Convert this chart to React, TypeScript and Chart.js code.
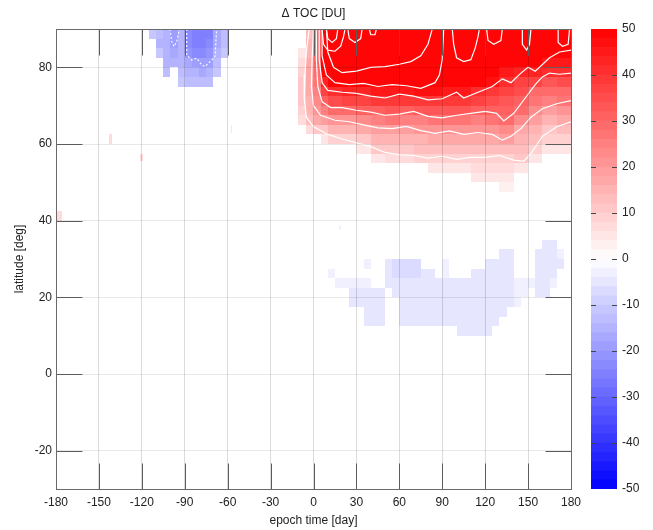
import React, { useEffect, useRef } from "react";
import { Chart, registerables } from "chart.js";

Chart.register(...registerables);
Chart.defaults.font.family = "'Liberation Sans', Arial, sans-serif";
Chart.defaults.font.size = 12;
Chart.defaults.color = "#222";

// ---------- axes ----------
const xTickValues = [-180, -150, -120, -90, -60, -30, 0, 30, 60, 90, 120, 150, 180];
const yTickValues = [-20, 0, 20, 40, 60, 80];
const colorbarTicks = [-50, -40, -30, -20, -10, 0, 10, 20, 30, 40, 50];

// ---------- Arctic positive anomaly (DU) ----------
const arcticDayEdges = [-11, -5, 0, 5, 10, 20, 30, 40, 50, 60, 70, 80, 90, 100, 110, 120, 130, 140, 150, 160, 170, 180];
const arcticLatEdges = [90, 87.5, 85, 82.5, 80, 77.5, 75, 72.5, 70, 67.5, 65, 62.5, 60, 57.5, 55, 52.5, 50, 47.5];
const arcticToc = [
  [0, 12, 30, 60, 80, 72, 70, 68, 68, 70, 70, 60, 55, 65, 58, 62, 58, 60, 62, 58, 62],
  [0, 14, 30, 60, 72, 68, 66, 66, 66, 67, 66, 58, 54, 63, 56, 60, 56, 57, 58, 55, 56],
  [5, 15, 30, 55, 65, 65, 64, 64, 64, 64, 62, 57, 52, 61, 55, 57, 54, 55, 54, 48, 49],
  [7, 16, 30, 52, 62, 62, 62, 61, 61, 60, 58, 56, 51, 58, 54, 54, 52, 50, 48, 44, 45],
  [9, 16, 28, 48, 57, 60, 58, 57, 57, 56, 55, 54, 50, 55, 52, 52, 45, 42, 42, 40, 40],
  [10, 16, 27, 42, 50, 52, 52, 52, 52, 51, 52, 50, 48, 50, 48, 46, 40, 37, 36, 33, 34],
  [10, 16, 25, 36, 40, 42, 43, 45, 45, 44, 46, 46, 44, 44, 41, 38, 36, 34, 29, 28, 28],
  [10, 15, 22, 30, 35, 36, 36, 38, 38, 38, 38, 39, 38, 38, 36, 34, 33, 31, 26, 24, 26],
  [9, 14, 20, 25, 28, 29, 30, 31, 32, 31, 32, 33, 32, 32, 31, 30, 31, 28, 22, 19, 21],
  [6, 12, 16, 18, 20, 21, 22, 24, 26, 25, 25, 27, 26, 26, 25, 26, 29, 22, 18, 15, 16],
  [0, 6, 10, 11, 14, 15, 16, 18, 19, 19, 20, 21, 21, 21, 21, 21, 22, 17, 15, 11, 12],
  [0, 0, 0, 5, 8, 8, 11, 14, 15, 15, 15, 16, 17, 17, 16, 16, 18, 14, 12, 8, 8],
  [0, 0, 0, 0, 0, 0, 5, 10, 11, 11, 12, 13, 13, 13, 12, 12, 13, 12, 8, 5, 5],
  [0, 0, 0, 0, 0, 0, 0, 5, 6, 7, 8, 9, 9, 9, 9, 9, 9, 10, 4, 0, 0],
  [0, 0, 0, 0, 0, 0, 0, 0, 0, 0, 0, 5, 5, 4, 6, 6, 6, 4, 0, 0, 0],
  [0, 0, 0, 0, 0, 0, 0, 0, 0, 0, 0, 0, 0, 0, 4, 4, 4, 0, 0, 0, 0],
  [0, 0, 0, 0, 0, 0, 0, 0, 0, 0, 0, 0, 0, 0, 0, 0, 3, 0, 0, 0, 0],
];

// ---------- polar negative anomaly (DU) ----------
const polarDayEdges = [-115, -110, -105, -100, -95, -90, -85, -80, -75, -70, -65, -60];
const polarLatEdges = [90, 87.5, 85, 82.5, 80, 77.5, 75];
const polarToc = [
  [-12, -14, -15, -20, -15, -24, -26, -26, -25, -18, -14],
  [0, -15, -16, -19, -16, -24, -26, -26, -24, -18, -13],
  [0, -12, -16, -17, -16, -21, -23, -24, -22, -16, -11],
  [0, 0, -15, -15, -15, -17, -19, -20, -19, -13, 0],
  [0, 0, -13, 0, -14, -15, -16, -17, -16, -11, 0],
  [0, 0, 0, 0, -12, -13, -14, -14, -13, 0, 0],
];

// ---------- mid-latitude weak negative anomaly (DU) ----------
const midDayEdges = [10, 15, 20, 25, 30, 35, 40, 45, 50, 55, 60, 65, 70, 75, 80, 85, 90, 95, 100, 105, 110, 115, 120, 125, 130, 135, 140, 145, 150, 155, 160, 165, 170, 175];
const midLatEdges = [35, 32.5, 30, 27.5, 25, 22.5, 20, 17.5, 15, 12.5, 10];
const midToc = [
  [0, 0, 0, 0, 0, 0, 0, 0, 0, 0, 0, 0, 0, 0, 0, 0, 0, 0, 0, 0, 0, 0, 0, 0, 0, 0, 0, 0, 0, 0, -5, -5, 0],
  [0, 0, 0, 0, 0, 0, 0, 0, 0, 0, 0, 0, 0, 0, 0, 0, 0, 0, 0, 0, 0, 0, 0, 0, -5, -5, 0, 0, 0, -5, -5, -5, -4],
  [0, 0, 0, 0, 0, -4, 0, 0, -5, -7, -7, -7, -7, 0, 0, 0, -4, 0, 0, 0, 0, 0, -5, -5, -5, -5, 0, 0, 0, -5, -5, -5, -5],
  [-4, 0, 0, 0, 0, 0, 0, 0, -5, -7, -7, -7, -7, -5, -5, 0, -4, 0, 0, 0, -5, -5, -5, -5, -5, -5, 0, 0, 0, -5, -5, -5, 0],
  [0, -4, -4, -4, -4, -4, 0, 0, -5, -5, -5, -5, -5, -5, -5, -5, -5, -5, -5, -5, -5, -5, -5, -5, -5, -5, -4, -4, -4, -5, -5, -4, 0],
  [0, 0, 0, -5, -5, -5, -5, -5, 0, -5, -5, -5, -5, -5, -5, -5, -5, -5, -5, -5, -5, -5, -5, -5, -5, -5, -4, -4, 0, -5, -5, 0, 0],
  [0, 0, 0, -5, -5, -5, -5, -5, 0, 0, -5, -5, -5, -5, -5, -5, -5, -5, -5, -5, -5, -5, -5, -5, -5, -5, -4, 0, 0, 0, 0, 0, 0],
  [0, 0, 0, 0, 0, -5, -5, -5, 0, 0, -5, -5, -5, -5, -5, -5, -5, -5, -5, -5, -5, -5, -5, -5, -5, 0, 0, 0, 0, 0, 0, 0, 0],
  [0, 0, 0, 0, 0, -5, -5, -5, 0, 0, -5, -5, -5, -5, -5, -5, -5, -5, -5, -5, -5, -5, -5, -5, 0, 0, 0, 0, 0, 0, 0, 0, 0],
  [0, 0, 0, 0, 0, 0, 0, 0, 0, 0, 0, 0, 0, 0, 0, 0, 0, 0, -5, -5, -5, -5, -5, 0, 0, 0, 0, 0, 0, 0, 0, 0, 0],
];

// isolated cells: [day0, day1, lat0, lat1, value]
const isolatedCells = [
  [-180, -176, 40, 42.5, 7],
  [-143, -141, 60, 62.5, 6],
  [-121, -119.5, 55.5, 57.5, 6],
  [-58, -57, 63, 65, 4],
  [18, 19.5, 37.5, 39, -4],
];

// ---------- contour lines [day, lat] ----------
const contour10 = [[-3, 90], [-5, 84], [-6, 78], [-6.5, 72], [-5, 67], [0, 64.5], [10, 62.5], [20, 61.3], [30, 60.3], [40, 59.3], [50, 57.8], [60, 57.2], [70, 57], [80, 56.3], [90, 56.8], [100, 56], [110, 56.5], [120, 56.5], [130, 57], [140, 55.8], [147, 55.5], [152, 57.5], [160, 62], [170, 64.5], [180, 65.8]];
const contour20 = [[0, 90], [-1, 82], [-1.5, 75], [0, 70], [5, 67.5], [15, 66.2], [25, 65.8], [35, 65], [45, 64.2], [55, 64], [65, 64.6], [75, 63.5], [85, 62.8], [95, 63.4], [105, 62.5], [115, 63], [125, 62.5], [132, 61], [138, 62], [145, 64], [152, 67], [160, 69.2], [170, 70.5], [180, 71.3]];
const contour30 = [[2, 90], [2, 82], [3, 75], [6, 71], [12, 69.5], [20, 69.5], [30, 68.8], [40, 68.3], [50, 67.5], [60, 67.8], [70, 68.5], [80, 67.2], [90, 66.8], [100, 67.5], [110, 68], [120, 68.5], [128, 68], [133, 66], [140, 68], [148, 72], [155, 75.5], [160, 77.5], [165, 78.5], [172, 78.2], [180, 78.5]];
const contour40 = [[4, 90], [4, 82], [6, 76], [10, 74], [20, 73.5], [30, 73.2], [40, 72.5], [50, 72], [60, 73], [70, 72.5], [80, 71.5], [90, 71.8], [100, 73.5], [105, 72], [115, 73.5], [125, 75], [132, 77], [138, 76], [145, 78.5], [150, 80], [155, 79], [165, 82.5], [172, 84], [180, 84.5]];
const contour50 = [[6, 90], [6, 83], [9, 78], [15, 76], [25, 75.5], [35, 75.8], [45, 75], [55, 75.5], [65, 75.2], [75, 74.5], [85, 76], [88, 78], [90, 82], [91, 90]];
const contour60 = [[9, 90], [10, 84], [14, 80], [20, 78.6], [30, 79], [40, 80], [50, 80.2], [60, 80.8], [68, 81.5], [75, 83], [80, 86], [83, 90]];
const contourLoops = [
  [[6, 90], [7, 86], [10, 84.5], [15, 84.2], [19, 85.5], [21, 88], [22, 90]],
  [[9, 90], [10, 87.5], [13, 86.5], [16, 87.5], [17, 90]],
  [[24, 90], [25, 87.5], [29, 86.5], [33, 87.5], [34, 90]],
  [[39, 90], [40, 88.5], [43, 88.5], [44, 90]],
  [[97, 90], [98, 86], [100, 82.5], [105, 81.5], [110, 82], [113, 85], [115, 88], [116, 90]],
  [[121, 90], [122, 87], [126, 86], [131, 87], [132, 90]],
  [[146, 90], [146, 86], [149, 84.5], [151, 86], [152, 90]],
  [[171, 90], [171, 86.5], [174, 85.5], [178, 86], [179, 90]],
];
const negativeContours = [
  [[-88.6, 90], [-88.6, 83.2], [-85.2, 81.9], [-81.7, 82.4], [-78.1, 80.6], [-75.8, 80.2], [-72.3, 81.5], [-68.8, 82.8], [-67.7, 90]],
  [[-100.3, 90], [-99.1, 86.7], [-97.5, 85.4], [-95.6, 86.7], [-93.8, 90]],
];

// ---------- colour scale ----------
function tocColor(v: number): string {
  const c = Math.max(-50, Math.min(50, v));
  const band = Math.min(49, Math.floor((c + 50) / 2));
  const mid = -50 + band * 2 + 1;
  const t = Math.abs(mid) / 50;
  const k = Math.round(255 * (1 - t));
  return mid >= 0 ? `rgb(255,${k},${k})` : `rgb(${k},${k},255)`;
}

const grids = [
  { days: arcticDayEdges, lats: arcticLatEdges, vals: arcticToc },
  { days: polarDayEdges, lats: polarLatEdges, vals: polarToc },
  { days: midDayEdges, lats: midLatEdges, vals: midToc },
];

const heatmapPlugin = {
  id: "heatmap",
  beforeDatasetsDraw(chart: any) {
    const { ctx, chartArea: a, scales } = chart;
    const x = scales.x;
    const y = scales.y;
    ctx.save();
    ctx.beginPath();
    ctx.rect(a.left, a.top, a.right - a.left, a.bottom - a.top);
    ctx.clip();
    const cell = (d0: number, d1: number, l0: number, l1: number, v: number) => {
      if (!v) return;
      const xa = Math.round(x.getPixelForValue(d0));
      const xb = Math.round(x.getPixelForValue(d1));
      const ya = Math.round(y.getPixelForValue(l0));
      const yb = Math.round(y.getPixelForValue(l1));
      ctx.fillStyle = tocColor(v);
      ctx.fillRect(Math.min(xa, xb), Math.min(ya, yb), Math.abs(xb - xa), Math.abs(yb - ya));
    };
    grids.forEach(({ days, lats, vals }) =>
      vals.forEach((row, r) => row.forEach((v, c) => cell(days[c], days[c + 1], lats[r], lats[r + 1], v)))
    );
    isolatedCells.forEach(([d0, d1, l0, l1, v]) => cell(d0, d1, l0, l1, v));
    ctx.restore();
  },
};

const framePlugin = {
  id: "frame",
  afterDraw(chart: any) {
    const { ctx, chartArea: a, scales } = chart;
    const x = scales.x;
    const y = scales.y;
    const L = Math.round(a.left) + 0.5;
    const R = Math.round(a.right) + 0.5;
    const T = Math.round(a.top) + 0.5;
    const B = Math.round(a.bottom) + 0.5;
    const len = 26;
    ctx.save();
    ctx.strokeStyle = "#5c5c5c";
    ctx.lineWidth = 1;
    ctx.beginPath();
    xTickValues.forEach((v) => {
      const px = Math.round(x.getPixelForValue(v)) + 0.5;
      ctx.moveTo(px, B);
      ctx.lineTo(px, B - len);
      ctx.moveTo(px, T);
      ctx.lineTo(px, T + len);
    });
    yTickValues.forEach((v) => {
      const py = Math.round(y.getPixelForValue(v)) + 0.5;
      ctx.moveTo(L, py);
      ctx.lineTo(L + len, py);
      ctx.moveTo(R, py);
      ctx.lineTo(R - len, py);
    });
    ctx.stroke();
    ctx.strokeStyle = "#6a6a6a";
    ctx.strokeRect(L, T, R - L, B - T);
    ctx.restore();
  },
};

const colorbarTickPlugin = {
  id: "cbticks",
  afterDraw(chart: any) {
    const { ctx, chartArea: a, scales } = chart;
    const y = scales.y;
    ctx.save();
    ctx.strokeStyle = "#444";
    ctx.lineWidth = 1;
    ctx.beginPath();
    colorbarTicks.forEach((v) => {
      if (v === -50 || v === 50) return;
      const py = Math.round(y.getPixelForValue(v)) + 0.5;
      ctx.moveTo(a.left, py);
      ctx.lineTo(a.left + 5, py);
      ctx.moveTo(a.right, py);
      ctx.lineTo(a.right - 5, py);
    });
    ctx.stroke();
    ctx.restore();
  },
};

const toPoints = (pts: number[][]) => pts.map(([d, l]) => ({ x: d, y: l }));

export default function App() {
  const mainRef = useRef<HTMLCanvasElement>(null);
  const barRef = useRef<HTMLCanvasElement>(null);

  useEffect(() => {
    const solid = [contour10, contour20, contour30, contour40, contour50, contour60, ...contourLoops];
    const datasets: any[] = solid.map((pts) => ({
      data: toPoints(pts),
      showLine: true,
      borderColor: "#ffffff",
      borderWidth: 1.2,
      pointRadius: 0,
      fill: false,
    }));
    negativeContours.forEach((pts) =>
      datasets.push({
        data: toPoints(pts),
        showLine: true,
        borderColor: "#ffffff",
        borderWidth: 1.1,
        borderDash: [2, 2],
        pointRadius: 0,
        fill: false,
      })
    );

    const main = new Chart(mainRef.current as HTMLCanvasElement, {
      type: "scatter",
      data: { datasets },
      options: {
        responsive: false,
        animation: false,
        events: [],
        layout: { padding: { left: 0, right: 82, top: 0, bottom: 0 } },
        plugins: {
          legend: { display: false },
          tooltip: { enabled: false },
          title: {
            display: true,
            fullSize: false,
            text: "\u0394 TOC [DU]",
            color: "#222",
            font: { size: 12, weight: "normal" },
            padding: { top: 6.6, bottom: 8 },
          },
        },
        scales: {
          x: {
            type: "linear",
            min: -180,
            max: 180,
            afterBuildTicks: (s: any) => {
              s.ticks = xTickValues.map((v) => ({ value: v }));
            },
            ticks: { padding: 6, color: "#222", font: { size: 12 } },
            grid: { color: "rgba(0,0,0,0.14)", drawTicks: false, z: 1 },
            border: { display: false },
            title: {
              display: true,
              text: "epoch time [day]",
              color: "#222",
              font: { size: 12 },
              padding: { top: 0, bottom: 1.8 },
            },
            afterFit: (s: any) => {
              s.height = 41;
            },
          },
          y: {
            type: "linear",
            min: -30,
            max: 90,
            afterBuildTicks: (s: any) => {
              s.ticks = yTickValues.map((v) => ({ value: v }));
            },
            ticks: { padding: 4, color: "#222", font: { size: 12 } },
            grid: { color: "rgba(0,0,0,0.09)", drawTicks: false, z: 1 },
            border: { display: false },
            title: {
              display: true,
              text: "latitude [deg]",
              color: "#222",
              font: { size: 12 },
              padding: { top: 12.5, bottom: 0 },
            },
            afterFit: (s: any) => {
              s.width = 56;
            },
          },
        },
      } as any,
      plugins: [heatmapPlugin, framePlugin],
    });

    const bands: number[][] = [];
    for (let v = -50; v < 50; v += 2) bands.push([v, v + 2]);
    const bar = new Chart(barRef.current as HTMLCanvasElement, {
      type: "bar",
      data: {
        labels: ["TOC"],
        datasets: bands.map(([lo, hi]) => ({
          data: [[lo, hi]],
          backgroundColor: tocColor(lo + 1),
          borderWidth: 0,
          grouped: false,
          barPercentage: 1,
          categoryPercentage: 1,
        })) as any,
      },
      options: {
        responsive: false,
        animation: false,
        events: [],
        layout: { padding: { left: 11, top: 29, bottom: 41, right: 0 } },
        plugins: { legend: { display: false }, tooltip: { enabled: false } },
        scales: {
          x: { display: false },
          y: {
            position: "right",
            min: -50,
            max: 50,
            afterBuildTicks: (s: any) => {
              s.ticks = colorbarTicks.map((v) => ({ value: v }));
            },
            ticks: { padding: 5, color: "#222", font: { size: 12 } },
            grid: { display: false, drawTicks: false },
            border: { display: false },
            afterFit: (s: any) => {
              s.width = 36;
            },
          },
        },
      } as any,
      plugins: [colorbarTickPlugin],
    });

    return () => {
      main.destroy();
      bar.destroy();
    };
  }, []);

  return (
    <div style={{ position: "fixed", left: 0, top: 0, width: 653, height: 530, background: "#fff" }}>
      <canvas ref={mainRef} width={653} height={530} style={{ position: "absolute", left: 0, top: 0 }} />
      <canvas ref={barRef} width={73} height={530} style={{ position: "absolute", left: 580, top: 0 }} />
    </div>
  );
}
